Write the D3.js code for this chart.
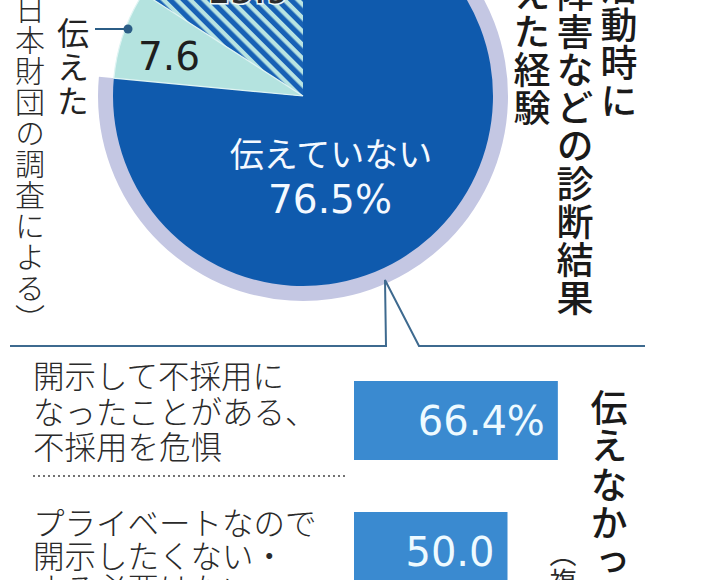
<!DOCTYPE html>
<html><head><meta charset="utf-8">
<script src="https://cdn.jsdelivr.net/npm/d3@7"></script>
<style>body{margin:0;background:#fff;} svg{display:block;}</style>
</head><body><svg id="c" width="718" height="580"></svg>
<script>
// ---- data ----
const pieCategories = ["伝えていない", "伝えた", "その他"];
const pieValues = [76.5, 7.6, 15.9];
const pieLabels = ["76.5%", "7.6", "15.9"];
const barCategories = [
  ["開示して不採用に", "なったことがある、", "不採用を危惧"],
  ["プライベートなので", "開示したくない・", "する必要はない"]
];
const barValues = [66.4, 50.0];
const barLabels = ["66.4%", "50.0"];
const titleColumns = ["就職活動時に", "障害などの診断結果", "を伝えた経験"];
const reasonTitle = "伝えなかった理由";
const reasonNote = "（複数回答）";
const sourceText = "（日本財団の調査による）";

// ---- drawing ----
const JP = "'Noto Sans CJK JP','Noto Sans CJK SC',sans-serif";
const NUM = "'DejaVu Sans',sans-serif";
const svg = d3.select("#c");
const defs = svg.append("defs");
const pat = defs.append("pattern").attr("id", "hatch")
  .attr("patternUnits", "userSpaceOnUse").attr("width", 9.5).attr("height", 9.5)
  .attr("patternTransform", "rotate(-45)");
pat.append("rect").attr("width", 9.5).attr("height", 9.5).attr("fill", "#b9e4e2");
pat.append("rect").attr("width", 5.2).attr("height", 9.5).attr("fill", "#1761b5");

const cx = 303, cy = 96, r = 190;
const pieG = svg.append("g").attr("transform", `translate(${cx},${cy})`);
const arcs = d3.pie().sort(null).startAngle(0).endAngle(2 * Math.PI)(pieValues);
const arc = d3.arc().innerRadius(0).outerRadius(r);
const ring = d3.arc().innerRadius(r - 1).outerRadius(r + 15);
const fills = ["#0f5aad", "#b4e3df", "url(#hatch)"];

pieG.append("path").attr("d", ring(arcs[0])).attr("fill", "#c4c7e3");
pieG.selectAll("path.slice").data(arcs).join("path").attr("class", "slice")
  .attr("d", arc).attr("fill", (d, i) => fills[i]);
// light edge along teal slice
pieG.append("path").attr("d", arc(arcs[1])).attr("fill", "none")
  .attr("stroke", "#dff4f3").attr("stroke-width", 1.2);

// pie labels
svg.append("text").attr("x", 331).attr("y", 167).attr("text-anchor", "middle")
  .attr("font-family", JP).attr("font-size", 34).attr("font-weight", 400)
  .attr("fill", "#f4f9ff").text(pieCategories[0]);
svg.append("text").attr("x", 330).attr("y", 213).attr("text-anchor", "middle")
  .attr("font-family", NUM).attr("font-size", 39).attr("fill", "#f4f9ff").text(pieLabels[0]);
svg.append("text").attr("x", 169).attr("y", 70).attr("text-anchor", "middle")
  .attr("font-family", NUM).attr("font-size", 39).attr("fill", "#1e1e1e").text(pieLabels[1]);
svg.append("text").attr("x", 248).attr("y", 3).attr("text-anchor", "middle")
  .attr("font-family", NUM).attr("font-size", 37).attr("fill", "#2a2a2a")
  .attr("stroke", "#eef8f8").attr("stroke-width", 3).attr("paint-order", "stroke")
  .text(pieLabels[2]);

// leader for 伝えた
svg.append("line").attr("x1", 95).attr("x2", 128).attr("y1", 29).attr("y2", 29)
  .attr("stroke", "#2b5d86").attr("stroke-width", 2);
svg.append("circle").attr("cx", 128).attr("cy", 29).attr("r", 4.5).attr("fill", "#2b5d86");

// vertical text helper
function vtext(str, x, top, size, step, weight, color) {
  svg.append("g").selectAll("text").data(Array.from(str)).join("text")
    .attr("x", x).attr("y", (d, i) => top + i * step)
    .style("writing-mode", "vertical-rl")
    .attr("font-family", JP).attr("font-size", size).attr("font-weight", weight)
    .attr("fill", color).text(d => d);
}
vtext(pieCategories[1], 73, 17, 32, 34, 400, "#222");
vtext(sourceText, 30, -37, 30, 31, 300, "#2a2a2a");

const titleX = [619, 575, 532], titleTop = [-108, -25, -101];
titleColumns.forEach((t, i) => vtext(t, titleX[i], titleTop[i], 37, 38, 500, "#1a1a1a"));
vtext(reasonTitle, 609, 389, 37, 38.5, 500, "#1a1a1a");
vtext(reasonNote, 563, 540, 27, 28, 400, "#2a2a2a");

// callout bracket
svg.append("path")
  .attr("d", d3.line()([[10, 346], [386, 346], [385, 280], [419, 346], [645, 346]]))
  .attr("fill", "none").attr("stroke", "#3e6a8f").attr("stroke-width", 2);

// bars
const x = d3.scaleLinear().domain([0, 100]).range([354, 661]);
const y = d3.scalePoint().domain(d3.range(barValues.length)).range([381, 512]);
const barH = 79;
svg.selectAll("rect.bar").data(barValues).join("rect").attr("class", "bar")
  .attr("x", x(0)).attr("y", (d, i) => y(i)).attr("width", d => x(d) - x(0))
  .attr("height", barH).attr("fill", "#3a8ad0");
svg.selectAll("text.bv").data(barValues).join("text").attr("class", "bv")
  .attr("x", d => x(d) - 13).attr("y", (d, i) => y(i) + 54).attr("text-anchor", "end")
  .attr("font-family", NUM).attr("font-size", 40).attr("fill", "#eefaff")
  .text((d, i) => barLabels[i]);

// category labels
const labelBase = [388, 535], lineStep = [35.5, 33];
barCategories.forEach((lines, g) => {
  svg.append("g").selectAll("text").data(lines).join("text")
    .attr("x", 33).attr("y", (d, i) => labelBase[g] + i * lineStep[g])
    .attr("font-family", JP).attr("font-size", 31.5).attr("font-weight", 300)
    .attr("fill", "#2a2a2a").text(d => d);
});
svg.append("line").attr("x1", 33).attr("x2", 347).attr("y1", 476).attr("y2", 476)
  .attr("stroke", "#444").attr("stroke-width", 1.6).attr("stroke-dasharray", "2,3");
</script></body></html>
